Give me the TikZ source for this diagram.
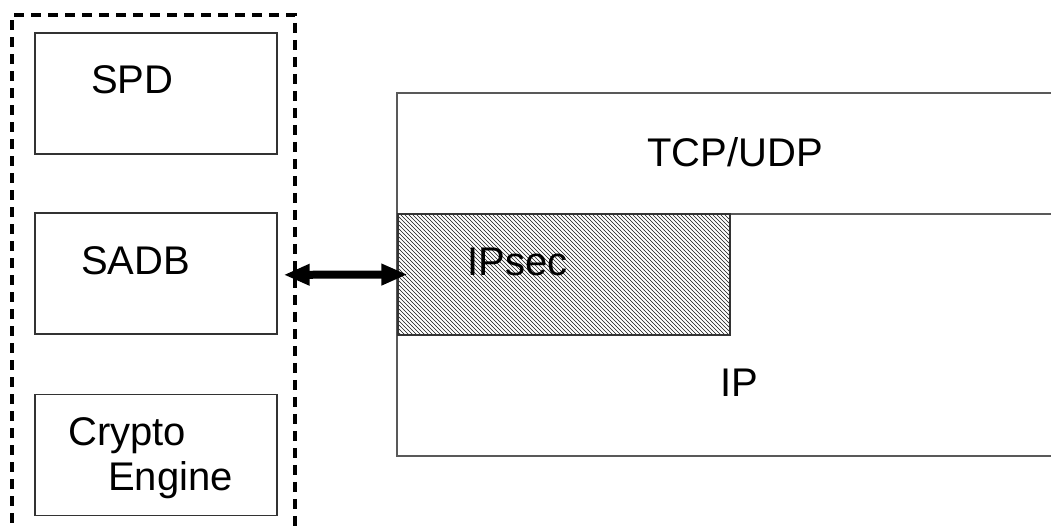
\documentclass[tikz,border=0pt]{standalone}
\usepackage{fontspec}
\setmainfont{Liberation Sans}
\usetikzlibrary{arrows.meta,patterns}
\begin{document}
\begin{tikzpicture}[x=0.75pt,y=-0.75pt,
  lbl/.style={anchor=base west,inner sep=0pt,font=\fontsize{30pt}{36pt}\selectfont},
  smallbox/.style={draw=black!80,line width=1pt,minimum width=181.5pt,minimum height=90.75pt,inner sep=0pt},
  layer/.style={draw=black!65,line width=1.4pt,inner sep=0pt,minimum width=504.75pt},
  container/.style={line width=2.6pt,dash pattern=on 7.5pt off 5.25pt},
  biarrow/.style={line width=6pt,{Triangle[length=19.5pt,width=15pt]}-{Triangle[length=19.5pt,width=15pt]}}
]
\useasboundingbox (0,0) rectangle (1051,530);
\clip (0,0) rectangle (1051,530);
% dashed container
\draw[container] (12,540) -- (12,15) -- (295,15) -- (295,540);
% left boxes
\node[smallbox] (spd) at (156,93.5) {};
\node[smallbox] (sadb) at (156,273.5) {};
\node[smallbox] (crypto) at (156,455) {};
\node[lbl] (spdl) at (91,94) {SPD};
\node[lbl] (sadbl) at (81,275) {SADB};
\node[lbl] (cryptol) at (68,446) {Crypto};
\node[lbl] (enginel) at (108,491) {Engine};
% protocol stack
\node[layer,minimum height=90.75pt] (tcp) at (733.5,153.5) {};
\node[layer,minimum height=181.5pt] (ip) at (733.5,335) {};
\node[draw=black!80,line width=0.8pt,pattern=north west lines,pattern color=black!90,inner sep=0pt,minimum width=249pt,minimum height=90.75pt] (ipsec) at (564,274.5) {};
\node[lbl] (tcpl) at (647,167) {TCP/UDP};
\node[lbl] (ipsecl) at (467,276) {IPsec};
\node[lbl] (ipl) at (720,397) {IP};
% arrow
\draw[biarrow] ([xshift=4.5pt,yshift=-1pt]sadb.east) -- ([xshift=7.5pt]ipsec.west);
\end{tikzpicture}
\end{document}
